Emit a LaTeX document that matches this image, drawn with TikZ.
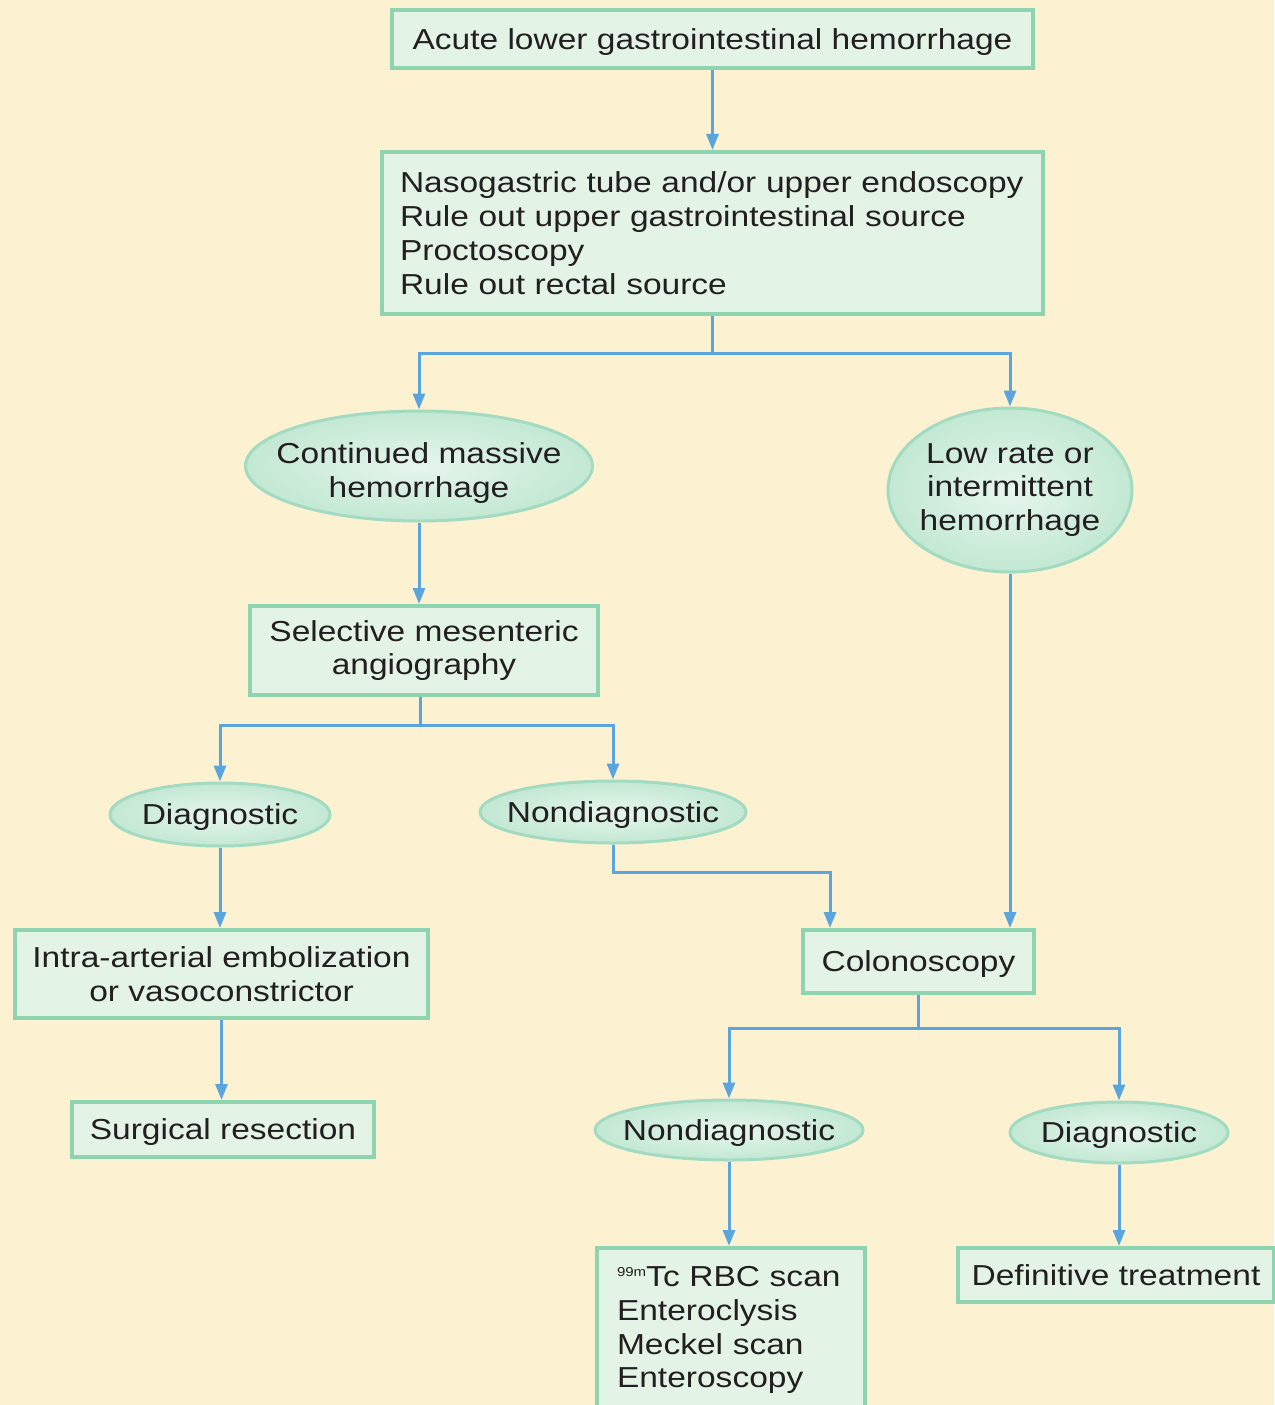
\documentclass[tikz,border=0pt]{standalone}
\usepackage{fontspec}
\setmainfont[FakeStretch=1.16]{Liberation Sans}
\usetikzlibrary{shapes.geometric,arrows.meta}
\definecolor{bg}{HTML}{FCF2D2}
\definecolor{boxfill}{HTML}{E3F4E6}
\definecolor{boxline}{HTML}{8FD4B0}
\definecolor{ovalin}{HTML}{E6F6EC}
\definecolor{ovalout}{HTML}{C2E8D3}
\definecolor{ovalline}{HTML}{A2DBC1}
\definecolor{arrowblue}{HTML}{5BA5DF}
\definecolor{txt}{HTML}{231F20}
\tikzset{
  box/.style={draw=boxline, line width=4bp, fill=boxfill, rectangle, inner sep=0pt, align=center, text=txt},
  oval/.style={draw=ovalline, line width=3bp, inner color=ovalin, outer color=ovalout, ellipse, inner sep=0pt},
  ovaltext/.style={align=center, text=txt, inner sep=0pt, yshift=-3bp},
  arr/.style={draw=arrowblue, line width=3bp, -{Triangle[length=16bp,width=12bp]}},
  ln/.style={draw=arrowblue, line width=3bp}
}
\begin{document}
\begin{tikzpicture}[x=1bp,y=-1bp,font=\fontsize{29}{34}\selectfont]
\fill[bg] (0,0) rectangle (1274,1405);
\useasboundingbox (0,0) rectangle (1274,1405);
% nodes
\node[box, minimum width=641bp, minimum height=58bp, text depth=0pt] (A) at (712.5,39) {Acute lower gastrointestinal hemorrhage};
\node[box, minimum width=661bp, minimum height=162bp, text width=625bp, align=left] (B) at (712.5,233)
  {Nasogastric tube and/or upper endoscopy\\Rule out upper gastrointestinal source\\Proctoscopy\\Rule out rectal source};
\node[oval, minimum width=347bp, minimum height=110bp,
  label={[ovaltext, yshift=-4bp]center:Continued massive\\hemorrhage}] (C) at (419,466) {};
\node[oval, minimum width=244bp, minimum height=164bp,
  label={[ovaltext, yshift=3bp]center:Low rate or\\intermittent\\hemorrhage}] (D) at (1010,490) {};
\node[box, minimum width=348bp, minimum height=89bp] (E) at (424,650.5) {Selective mesenteric\\angiography};
\node[oval, minimum width=220bp, minimum height=63bp,
  label={[ovaltext]center:Diagnostic}] (F) at (220,814.5) {};
\node[oval, minimum width=266bp, minimum height=62bp,
  label={[ovaltext]center:Nondiagnostic}] (G) at (613,812) {};
\node[box, minimum width=413bp, minimum height=88bp] (H) at (221.5,974) {Intra-arterial embolization\\or vasoconstrictor};
\node[box, minimum width=302bp, minimum height=55bp, text depth=0pt] (I) at (223,1129.5) {Surgical resection};
\node[box, minimum width=231bp, minimum height=63bp, text depth=0pt] (J) at (918.5,961.5) {Colonoscopy};
\node[oval, minimum width=268bp, minimum height=60bp,
  label={[ovaltext]center:Nondiagnostic}] (K) at (729,1130) {};
\node[oval, minimum width=218bp, minimum height=61bp,
  label={[ovaltext]center:Diagnostic}] (L) at (1119,1132.5) {};
\node[box, minimum width=268bp, minimum height=164bp, text width=228bp, align=left] (M) at (731,1330)
  {{\fontsize{13}{13}\selectfont\raisebox{10bp}{99m}}Tc RBC scan\\Enteroclysis\\Meckel scan\\Enteroscopy};
\node[box, minimum width=316bp, minimum height=54bp] (N) at (1116,1275) {Definitive treatment};
% split points
\coordinate (b1) at (712.5,353);
\coordinate (e1) at (420,725);
\coordinate (g1) at (830,872);
\coordinate (j1) at (918.5,1028);
% connectors
\draw[arr] (A.south) -- (B.north);
\draw[ln] (B.south) -- (b1);
\draw[arr] (b1) -| (C.north);
\draw[arr] (b1) -| (D.north);
\draw[arr] (C.south) -- (C.south |- E.north);
\draw[ln] (e1 |- E.south) -- (e1);
\draw[arr] (e1) -| (F.north);
\draw[arr] (e1) -| (G.north);
\draw[arr] (F.south) -- (F.south |- H.north);
\draw[arr] (H.south) -- (H.south |- I.north);
\draw[arr] (G.south) |- (g1) -- (g1 |- J.north);
\draw[arr] (D.south) -- (D.south |- J.north);
\draw[ln] (J.south) -- (j1);
\draw[arr] (j1) -| (K.north);
\draw[arr] (j1) -| (L.north);
\draw[arr] (K.south) -- (K.south |- M.north);
\draw[arr] (L.south) -- (L.south |- N.north);
\end{tikzpicture}
\end{document}
